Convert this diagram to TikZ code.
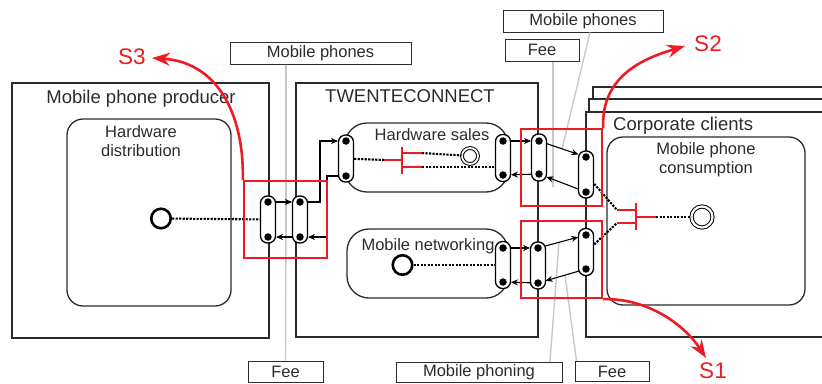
\documentclass[tikz,border=0pt]{standalone}
\usepackage{fontspec}
\setmainfont{Liberation Sans}
\usetikzlibrary{arrows.meta,calc}
\definecolor{dg}{HTML}{2B2B2B}
\definecolor{rd}{HTML}{ED1C24}
\definecolor{gl}{HTML}{C8C8C8}
\begin{document}
\begin{tikzpicture}[x=1pt,y=-1pt,
  box/.style={draw=dg, line width=1.3pt},
  rbox/.style={draw=dg, line width=1.3pt, rounded corners=16pt},
  lbl/.style={draw=dg, fill=white, line width=1pt, inner sep=0pt, text=dg, font=\fontsize{16.5}{18}\selectfont},
  ttl/.style={font=\fontsize{18.5}{20}\selectfont, text=dg, inner sep=0pt},
  sub/.style={font=\fontsize{16.5}{19}\selectfont, text=dg, align=center, inner sep=0pt},
  port/.style={draw=black, fill=white, line width=1.3pt, rounded corners=7pt, minimum width=15pt, minimum height=47pt, inner sep=0pt},
  pdot/.style={circle, fill=black, inner sep=0pt, minimum size=7.5pt},
  flow/.style={draw=black, line width=1.1pt, -{Stealth[length=7pt,width=6pt]}, shorten <=3.75pt, shorten >=4pt},
  dotl/.style={draw=black, line width=2.1pt, dash pattern=on 2.2pt off 1.3pt},
  inh/.style={draw=rd, line width=2.4pt},
  gline/.style={draw=gl, line width=1.4pt},
  rframe/.style={draw=rd, line width=2.3pt, inner sep=0pt},
  sarr/.style={draw=rd, line width=2.6pt, -{Stealth[length=18pt,width=13pt]}},
  slbl/.style={text=rd, font=\fontsize{22.5}{24}\selectfont, inner sep=0pt},
  startev/.style={circle, draw=black, line width=2.6pt, minimum size=19.5pt, inner sep=0pt},
  endev/.style={circle, draw=black, line width=1pt, double=white, double distance=1.8pt, inner sep=0pt}
]
\useasboundingbox (0,0) rectangle (822,383);
\clip (0,0) rectangle (822,383);

% label boxes
\node[lbl, minimum width=181pt, minimum height=22pt] (mp1) at (320.5,53) {Mobile phones};
\node[lbl, minimum width=75pt, minimum height=21pt] (fee1) at (285.5,371.5) {Fee};
\node[lbl, minimum width=160pt, minimum height=22pt] (mp2) at (583,21) {Mobile phones};
\node[lbl, minimum width=74pt, minimum height=22pt] (fee2) at (542,50) {Fee};
\node[lbl, minimum width=166pt, minimum height=20pt] (mph) at (479,372.5) {Mobile phoning};
\node[lbl, minimum width=74pt, minimum height=20pt] (fee3) at (612,371.5) {Fee};

\coordinate (g1) at (286,237); \coordinate (g2) at (286,202);
\coordinate (g3) at (562,149); \coordinate (g4) at (553,187);
\coordinate (g5) at (559,242); \coordinate (g6) at (565,275);
\draw[gline] ($(mp1.south)+(-34.5,0)$) -- (g1);
\draw[gline] (fee1.north) -- (g2);
\draw[gline] ($(mp2.south)+(7,0)$) -- (g3);
\draw[gline] ($(fee2.south)+(11,0)$) -- (g4);
\draw[gline] ($(mph.north)+(71,0)$) -- (g5);
\draw[gline] ($(fee3.north west)+(2,0)$) -- (g6);

% actor boxes
\draw[box, fill=white] (593,87) rectangle (840,330);
\draw[box, fill=white] (589,99) rectangle (840,333);
\draw[box, fill=white] (586,112) rectangle (840,337);
\draw[box] (12,83) rectangle (269,338);
\draw[box] (296,83) rectangle (538,337);

\node[ttl, anchor=base] (tprod) at (141,103) {Mobile phone producer};
\node[ttl, anchor=base] (ttc) at (410,102.5) {TWENTECONNECT};
\node[ttl, anchor=base west] (tcorp) at (613,130) {Corporate clients};

% value activities
\draw[rbox] (67,119) rectangle (231,306);
\draw[rbox, rounded corners=22pt] (345,123) rectangle (508,192);
\draw[rbox, rounded corners=22pt] (347,229) rectangle (508,298);
\draw[rbox] (607,137) rectangle (805,305);
\node[sub] (thd) at (141,141) {Hardware\\distribution};
\node[sub, anchor=base] (ths) at (432,140) {Hardware sales};
\node[sub, anchor=base] (tmn) at (428,250) {Mobile networking};
\node[sub] (tmc) at (706,160) {Mobile phone\\consumption};

% ports
\node[port] (p1) at (268,219.5) {};
\node[pdot] (p1a) at (268,202) {}; \node[pdot] (p1b) at (268,237) {};
\node[port] (p2) at (300,219.5) {};
\node[pdot] (p2a) at (300,202) {}; \node[pdot] (p2b) at (300,237) {};
\node[port] (hl) at (346,158.5) {};
\node[pdot] (hla) at (346,141) {}; \node[pdot] (hlb) at (346,176) {};
\node[port] (hr) at (503,158) {};
\node[pdot] (hra) at (503,141) {}; \node[pdot] (hrb) at (503,175) {};
\node[port] (a) at (539,157.5) {};
\node[pdot] (aa) at (539,141) {}; \node[pdot] (ab) at (539,174) {};
\node[port] (b) at (586,174.5) {};
\node[pdot] (ba) at (586,157) {}; \node[pdot] (bb) at (586,192) {};
\node[port] (nr) at (503,265) {};
\node[pdot] (nra) at (503,248) {}; \node[pdot] (nrb) at (503,282) {};
\node[port] (c) at (538,265.5) {};
\node[pdot] (ca) at (538,248) {}; \node[pdot] (cb) at (538,283) {};
\node[port] (d) at (586,252) {};
\node[pdot] (da) at (586,235) {}; \node[pdot] (db) at (586,269) {};

% start / end stimuli
\node[startev] (pc) at (161,218.5) {};
\node[startev] (nc) at (402.5,265) {};
\node[endev, minimum size=16pt] (hsc) at (470,156) {};
\node[endev, minimum size=21pt, double distance=2.2pt] (cc) at (702,217) {};

% value transfers
\draw[flow] (p1a) -- (p2a);
\draw[flow] (p2b) -- (p1b);
\draw[flow] (p2a) -- ++(20,0) |- (hla);
\draw[flow] (hlb) -- ++(-19,0) |- (p2b);
\draw[flow] (hra) -- (aa);
\draw[flow] (ab) -- (hrb);
\draw[flow] (aa) -- (ba);
\draw[flow] (bb) -- (ab);
\draw[flow] (nra) -- (ca);
\draw[flow] (cb) -- (nrb);
\draw[flow] (ca) -- (da);
\draw[flow] (db) -- (cb);

% dependency paths
\coordinate (hsL) at (384,160); \coordinate (hsM) at (402,160);
\coordinate (hsT) at (402,147); \coordinate (hsB) at (402,174);
\coordinate (hsR1) at (422,153); \coordinate (hsR2) at (422,167);
\coordinate (cL1) at (617,210); \coordinate (cL2) at (617,223);
\coordinate (cM) at (636,217); \coordinate (cT) at (636,203);
\coordinate (cB) at (636,230); \coordinate (cR) at (656,217);

\draw[dotl] (pc) -- (p1);
\draw[dotl] (nc) -- (nr);
\draw[dotl] (hl) -- (hsL);
\draw[dotl] (hsR1) -- (hsc);
\draw[dotl] (hsR2) -- (hsR2 -| hr.west);
\draw[dotl] (b) -- (cL1);
\draw[dotl] (d) -- (cL2);
\draw[dotl] (cR) -- (cc);

\draw[inh] (hsL) -- (hsM) (hsT) -- (hsB) (hsR1 -| hsM) -- (hsR1) (hsR2 -| hsM) -- (hsR2);
\draw[inh] (cL1) -- (cL1 -| cM) (cL2) -- (cL2 -| cM) (cT) -- (cB) (cM) -- (cR);

% red frames
\node[rframe, minimum width=83pt, minimum height=77pt] (r1) at (285.5,219.5) {};
\node[rframe, minimum width=81pt, minimum height=77pt] (r2) at (561.5,167.5) {};
\node[rframe, minimum width=81pt, minimum height=77pt] (r3) at (561.5,259.5) {};

% scenario arrows
\node[slbl] (s3) at (132,57) {S3};
\node[slbl] (s2) at (708,44) {S2};
\node[slbl] (s1) at (713,371) {S1};
\coordinate (s3t) at (152,58);
\coordinate (s2t) at (685,46);
\coordinate (s1t) at (706,358);
\draw[sarr] (r1.north west) .. controls (244,110) and (215,62) .. (s3t);
\draw[sarr] (r2.north east) .. controls (601,75) and (645,58) .. (s2t);
\draw[sarr] (r3.south east) .. controls (650,298) and (686,327) .. (s1t);
\end{tikzpicture}
\end{document}
